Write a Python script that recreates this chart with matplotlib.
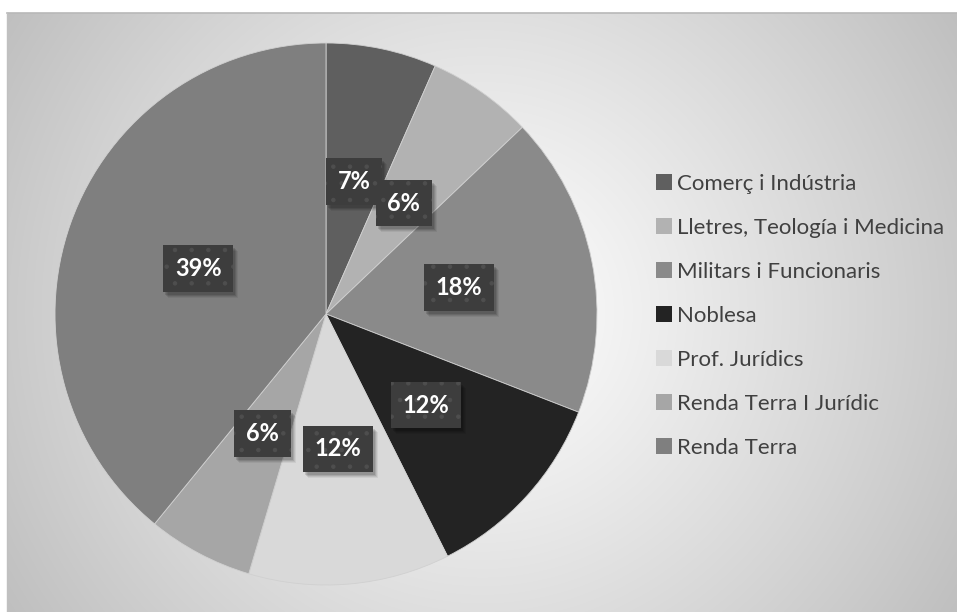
import numpy as np
import matplotlib
matplotlib.use("Agg")
import matplotlib.pyplot as plt
import matplotlib.transforms as mtransforms
from matplotlib.patches import Rectangle

# data (percent shares)
labels = ["Comerç i Indústria", "Lletres, Teología i Medicina", "Militars i Funcionaris",
          "Noblesa", "Prof. Jurídics", "Renda Terra I Jurídic", "Renda Terra"]
shares = [6.6, 6.3, 18.0, 11.7, 12.0, 6.3, 39.1]
colors = ["#5f5f5f", "#b2b2b2", "#8a8a8a", "#232323", "#d9d9d9", "#a6a6a6", "#7f7f7f"]

W, H = 957, 612
fig = plt.figure(figsize=(W / 100, H / 100), dpi=100)
fig.patch.set_facecolor("white")

# chart area background: radial gradient
bg = fig.add_axes([7 / W, 0, (W - 7) / W, (H - 13) / H])
bw, bh = W - 7, H - 13
yy, xx = np.mgrid[0:bh, 0:bw]
d = np.sqrt((xx - (482 - 7)) ** 2 + (yy - (312 - 13)) ** 2) / 560.0
d = np.clip(d, 0, 1)
c0, c1 = 1.0, 0.75
grad = c0 + (c1 - c0) * d ** 1.1
bg.imshow(np.dstack([grad, grad, grad]), aspect="auto", interpolation="bilinear")
bg.set_axis_off()
fig.add_artist(plt.Line2D([7 / W, 1], [(H - 13) / H] * 2, color="#b8b8b8", lw=1.2))
fig.add_artist(plt.Line2D([7 / W] * 2, [0, (H - 13) / H], color="#c0c0c0", lw=1.0))

# pie
cx, cy, r = 326, 314, 271
ax = fig.add_axes([(cx - r) / W, (H - cy - r) / H, 2 * r / W, 2 * r / H])
wedges, texts, autotexts = ax.pie(shares, colors=colors, startangle=90, counterclock=False,
                                  autopct=lambda p: "%d%%" % round(p), pctdistance=0.5,
                                  wedgeprops=dict(edgecolor="#d0d0d0", linewidth=0.6))
ax.set_autoscale_on(False)
ax.set_xlim(-1, 1)
ax.set_ylim(-1, 1)
ax.set_aspect("equal")
ax.set_axis_off()

plt.rcParams["hatch.linewidth"] = 0.8
fam = ["Lato", "DejaVu Sans"]
for t in autotexts:
    t.set_color("white")
    t.set_fontsize(17)
    t.set_fontweight("bold")
    t.set_family(fam)
    t.set_zorder(3)
    t.set_bbox(dict(boxstyle="square,pad=0.5", facecolor="#3d3d3d", edgecolor="#4e4e4e",
                    linewidth=0, hatch="."))

# soft drop shadows under the label boxes
fig.canvas.draw()
rend = fig.canvas.get_renderer()
ident = mtransforms.IdentityTransform()
for t in autotexts:
    bb = t.get_bbox_patch().get_window_extent(rend)
    for k, a in [(6, 0.06), (5, 0.08), (4, 0.1), (3, 0.12)]:
        ax.add_artist(Rectangle((bb.x0 + k - 1, bb.y0 - k), bb.width, bb.height,
                                transform=ident, facecolor="black", alpha=a,
                                linewidth=0, zorder=2.5, clip_on=False))

leg = fig.legend(wedges, labels, loc="center left", bbox_to_anchor=(656 / W, (H - 316) / H),
                 frameon=False, labelspacing=1.08, handlelength=0.7,
                 handleheight=0.7, handletextpad=0.25, borderpad=0, borderaxespad=0,
                 prop={"family": fam, "size": 16})
for txt in leg.get_texts():
    txt.set_color("#404040")
for h in leg.legend_handles:
    h.set_linewidth(0)

fig.savefig("out.png", dpi=100)
